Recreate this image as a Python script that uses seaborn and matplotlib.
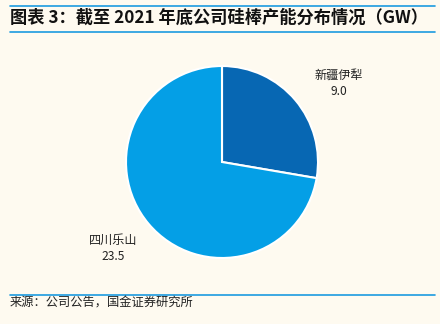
import matplotlib
matplotlib.use("Agg")
import matplotlib.pyplot as plt
import seaborn as sns
import numpy as np
from matplotlib.lines import Line2D

sns.set_theme(style="white")
plt.rcParams['font.family'] = ['Noto Sans CJK SC', 'DejaVu Sans']

# data
regions = ["新疆伊犁", "四川乐山"]
capacity = [9.0, 23.5]
value_labels = ["9.0", "23.5"]

title = "图表 3：截至 2021 年底公司硅棒产能分布情况（GW）"
source = "来源：公司公告，国金证券研究所"

bg = "#FEFAF0"
colors = ["#0767B3", "#049FE6"]
line_c = "#1C9BE0"

W, H = 440, 324
fig = plt.figure(figsize=(W / 100, H / 100), dpi=100, facecolor=bg)

cx, cy, r = 222, 162, 96
ax = fig.add_axes([(cx - r) / W, (H - cy - r) / H, 2 * r / W, 2 * r / H])
ax.set_facecolor(bg)

labels = [f"{a}\n{b}" for a, b in zip(regions, value_labels)]
wedges, texts = ax.pie(capacity, labels=labels, colors=colors, startangle=90,
                       counterclock=False, labeldistance=1.42,
                       wedgeprops=dict(edgecolor="white", linewidth=1.5),
                       textprops=dict(fontsize=8.7, color="#222222"))
# small layout nudges (pixels) for the labels
nudges = [(13, -9), (-4.5, 1.5)]
for t, (dx, dy) in zip(texts, nudges):
    x, y = t.get_position()
    t.set_position((x + dx / r, y + dy / r))
    t.set_horizontalalignment("center")
    t.set_verticalalignment("center")
    t.set_linespacing(1.35)
ax.set_xlim(-1, 1)
ax.set_ylim(-1, 1)
ax.set_aspect("equal")
ax.axis("off")

def hline(y):
    fig.add_artist(Line2D([10 / W, 435 / W], [1 - y / H, 1 - y / H],
                          color=line_c, linewidth=1.2, transform=fig.transFigure))

hline(5.5)
hline(31.5)
hline(295)

fig.text(10 / W, 1 - 17.5 / H, title, fontsize=12.4, fontweight="bold",
         fontstyle="italic", color="#111111", ha="left", va="center")
fig.text(10 / W, 1 - 303 / H, source, fontsize=8.8, color="#222222",
         ha="left", va="center")

fig.savefig("out.png", dpi=100, facecolor=bg)
